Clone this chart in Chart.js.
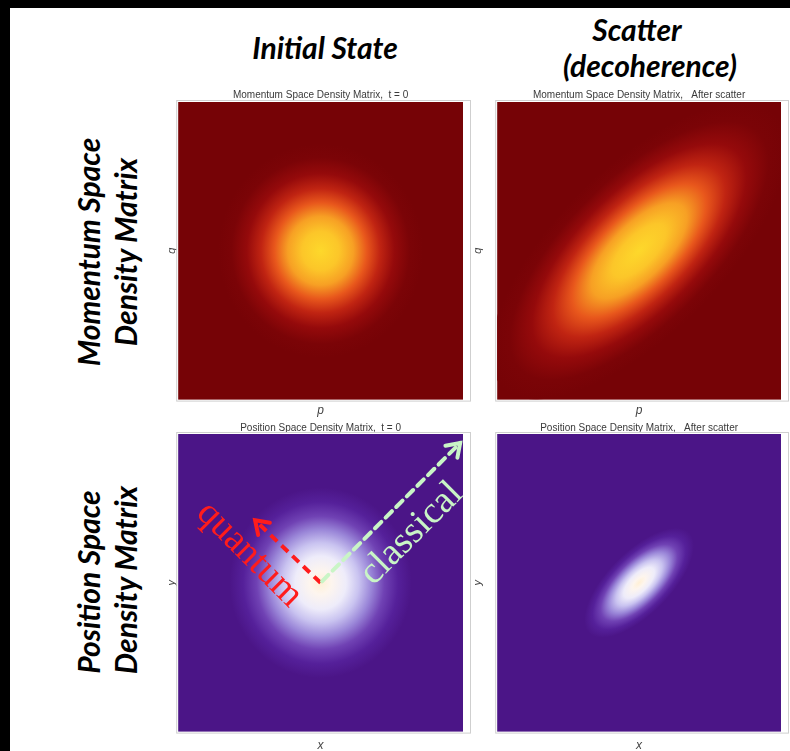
<!DOCTYPE html>
<html>
<head>
<meta charset="utf-8">
<script src="https://cdn.jsdelivr.net/npm/chart.js@4.4.1/dist/chart.umd.min.js"></script>
<style>
  html, body { margin: 0; padding: 0; background: #fff; overflow: hidden; }
  body { width: 790px; height: 751px; position: relative; }
  .edge-top { position: absolute; left: 0; top: 0; width: 790px; height: 8px; background: #000; }
  .edge-left { position: absolute; left: 0; top: 0; width: 10px; height: 751px; background: #000; }
  .head {
    position: absolute; transform: translate(-50%, -50%);
    font-family: Lato, "Open Sans", sans-serif; font-weight: bold; font-style: italic;
    font-size: 30px; line-height: 1; color: #000; white-space: nowrap; text-align: center;
  }
  .side { transform: translate(-50%, -50%) rotate(-90deg); }
  .panel { position: absolute; }
</style>
</head>
<body>
<div class="edge-top"></div>
<div class="edge-left"></div>

<div class="head" style="left:325px; top:47px;">Initial State</div>
<div class="head" style="left:637px; top:29px;">Scatter</div>
<div class="head" style="left:650px; top:65px;">(decoherence)</div>
<div class="head side" style="left:88px; top:252px;">Momentum Space</div>
<div class="head side" style="left:125px; top:252px;">Density Matrix</div>
<div class="head side" style="left:88px; top:582px;">Position Space</div>
<div class="head side" style="left:125px; top:580px;">Density Matrix</div>

<canvas id="panel-0" class="panel" width="342" height="328" style="left:150px; top:90px;"></canvas>
<canvas id="panel-1" class="panel" width="367" height="328" style="left:456px; top:90px;"></canvas>
<canvas id="panel-2" class="panel" width="342" height="330" style="left:150px; top:423px;"></canvas>
<canvas id="panel-3" class="panel" width="367" height="330" style="left:456px; top:423px;"></canvas>

<script>
// panel order: momentum t=0, momentum after, position t=0, position after
const panelTitles = [
  "Momentum Space Density Matrix,  t = 0",
  "Momentum Space Density Matrix,   After scatter",
  "Position Space Density Matrix,  t = 0",
  "Position Space Density Matrix,   After scatter",
];
const xAxisNames = ["p", "p", "x", "x"];
const yAxisNames = ["q", "q", "y", "y"];

// blob of each density matrix (axis units, range -1..1)
const blobX = [0, 0, 0, 0];
const blobY = [0, 0, 0, 0];
const blobMajor = [0.72, 1.36, 0.64, 0.5];
const blobMinor = [0.72, 0.56, 0.64, 0.21];
const blobAngle = [0, 45, 0, 45];

// arrows on the position panel at t = 0
const arrowNames = ["quantum", "classical"];
const arrowStartX = [0, 0.01];
const arrowStartY = [0, 0.01];
const arrowEndX = [-0.46, 0.98];
const arrowEndY = [0.42, 0.94];
const arrowLabelX = [-0.5, 0.64];
const arrowLabelY = [0.19, 0.33];
const arrowLabelAngle = [45, -45];

const heatStops = [
  [0, "#fdd82b"], [0.18, "#fcc629"], [0.32, "#f7a024"], [0.45, "#e8571c"],
  [0.58, "#c02412"], [0.72, "#950a0b"], [0.87, "#7b0407"], [1, "#760306"],
];
const purpleStops = [
  [0, "#fff0d6"], [0.12, "#fdf5ee"], [0.28, "#eeecfa"], [0.42, "#c9c3f0"],
  [0.56, "#9a86d8"], [0.7, "#7042b4"], [0.85, "#55209a"], [1, "#4b1587"],
];
const panelStyles = [
  { bg: "#760306", stops: heatStops },
  { bg: "#760306", stops: heatStops },
  { bg: "#4b1587", stops: purpleStops },
  { bg: "#4b1587", stops: purpleStops },
];
const arrowColors = ["#ff1c1c", "#c9f5c6"];

const drawArrow = (ctx, x0, y0, x1, y1, color) => {
  const ang = Math.atan2(y1 - y0, x1 - x0);
  ctx.strokeStyle = color;
  ctx.lineWidth = 4;
  ctx.setLineDash([9, 6]);
  ctx.beginPath();
  ctx.moveTo(x0, y0);
  ctx.lineTo(x1, y1);
  ctx.stroke();
  ctx.setLineDash([]);
  const head = 15;
  ctx.lineCap = "round";
  ctx.beginPath();
  ctx.moveTo(x1 - head * Math.cos(ang - 0.6), y1 - head * Math.sin(ang - 0.6));
  ctx.lineTo(x1, y1);
  ctx.lineTo(x1 - head * Math.cos(ang + 0.6), y1 - head * Math.sin(ang + 0.6));
  ctx.stroke();
};

const densityPanel = {
  id: "densityPanel",
  beforeDatasetsDraw(chart, args, opts) {
    const i = opts.index;
    const { ctx, chartArea: a, scales } = chart;
    const style = panelStyles[i];
    ctx.save();
    ctx.fillStyle = style.bg;
    ctx.fillRect(a.left, a.top, a.width, a.height);
    ctx.beginPath();
    ctx.rect(a.left, a.top, a.width, a.height);
    ctx.clip();

    const pt = chart.getDatasetMeta(0).data[0];
    const rx = Math.abs(scales.x.getPixelForValue(blobMajor[i]) - scales.x.getPixelForValue(0));
    const ry = Math.abs(scales.y.getPixelForValue(blobMinor[i]) - scales.y.getPixelForValue(0));
    ctx.translate(pt.x, pt.y);
    ctx.rotate((-blobAngle[i] * Math.PI) / 180);
    ctx.scale(rx, ry);
    const grad = ctx.createRadialGradient(0, 0, 0, 0, 0, 1);
    style.stops.forEach(([o, c]) => grad.addColorStop(o, c));
    ctx.fillStyle = grad;
    ctx.beginPath();
    ctx.arc(0, 0, 1, 0, Math.PI * 2);
    ctx.fill();
    ctx.restore();
  },
  afterDraw(chart, args, opts) {
    const i = opts.index;
    const { ctx, chartArea: a, scales } = chart;
    ctx.save();
    // frame
    ctx.strokeStyle = "#cfcfcf";
    ctx.lineWidth = 1;
    ctx.strokeRect(a.left - 1.5, a.top - 1.5, a.width + 9, a.height + 3);

    if (i === 2) {
      ctx.beginPath();
      ctx.rect(a.left, a.top, a.width, a.height);
      ctx.clip();
      arrowNames.forEach((name, k) => {
        drawArrow(
          ctx,
          scales.x.getPixelForValue(arrowStartX[k]),
          scales.y.getPixelForValue(arrowStartY[k]),
          scales.x.getPixelForValue(arrowEndX[k]),
          scales.y.getPixelForValue(arrowEndY[k]),
          arrowColors[k],
        );
      });
      arrowNames.forEach((name, k) => {
        ctx.save();
        ctx.translate(scales.x.getPixelForValue(arrowLabelX[k]), scales.y.getPixelForValue(arrowLabelY[k]));
        ctx.rotate((arrowLabelAngle[k] * Math.PI) / 180);
        ctx.fillStyle = arrowColors[k];
        ctx.font = '38px "Liberation Serif", serif';
        ctx.textAlign = "center";
        ctx.textBaseline = "middle";
        ctx.fillText(name, 0, 0);
        ctx.restore();
      });
    }
    ctx.restore();
  },
};

const makePanel = (i) => {
  const bottomRow = i >= 2;
  const rightCol = i % 2 === 1;
  return new Chart(document.getElementById("panel-" + i), {
    type: "scatter",
    data: {
      datasets: [
        {
          data: [{ x: blobX[i], y: blobY[i] }],
          pointRadius: 0,
          pointHoverRadius: 0,
        },
      ],
    },
    options: {
      responsive: false,
      animation: false,
      events: [],
      layout: { padding: { left: 0, right: rightCol ? 42 : 29, top: 0, bottom: 0 } },
      scales: {
        x: {
          min: -1,
          max: 1,
          ticks: { display: false },
          grid: { display: false, drawTicks: false },
          border: { display: false },
          title: {
            display: true,
            text: xAxisNames[i],
            color: "#444",
            font: { family: "Liberation Sans", size: 12, style: "italic" },
            padding: { top: bottomRow ? 7 : 4, bottom: 0 },
          },
        },
        y: {
          min: -1,
          max: 1,
          ticks: { display: false },
          grid: { display: false, drawTicks: false },
          border: { display: false },
          title: {
            display: true,
            text: yAxisNames[i],
            color: "#444",
            font: { family: "Liberation Sans", size: 11, style: "italic" },
            padding: { top: 15, bottom: rightCol ? 13 : 0 },
          },
        },
      },
      plugins: {
        legend: { display: false },
        tooltip: { enabled: false },
        title: {
          display: true,
          fullSize: false,
          text: panelTitles[i],
          color: "#3a3a3a",
          font: { family: "Liberation Sans", size: 10, weight: "normal", lineHeight: 1.1 },
          padding: { top: 0, bottom: bottomRow ? 0 : 1 },
        },
        densityPanel: { index: i },
      },
    },
    plugins: [densityPanel],
  });
};

[0, 1, 2, 3].forEach(makePanel);
</script>
</body>
</html>
